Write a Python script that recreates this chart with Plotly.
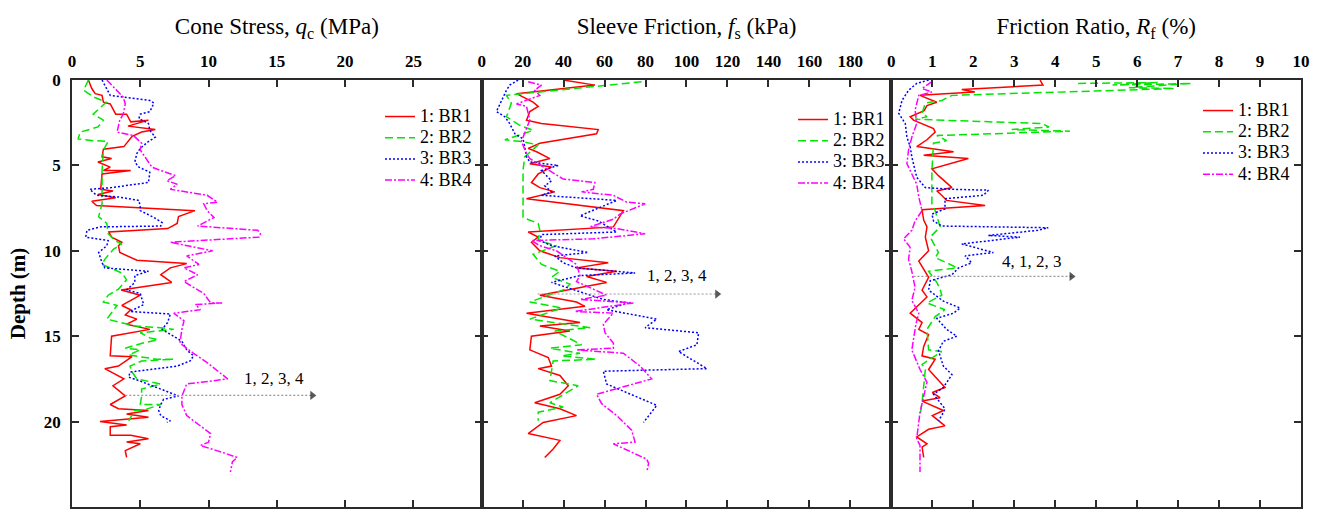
import plotly.graph_objects as go
from plotly.subplots import make_subplots

# ---------------- Cone stress q_c (MPa) ----------------
depth_qc_br1 = [0, 0.5, 0.8, 0.9, 1.3, 1.4, 2.0, 2.0, 2.45, 2.35, 2.7, 2.9, 3.05, 3.3, 3.9, 4.05, 4.5, 4.6, 4.8,
                5.1, 5.3, 5.3, 5.5, 6.4, 6.5, 6.7, 6.9, 7.1, 7.35, 7.65, 8.0, 8.4, 8.7, 8.9, 9.2, 9.5, 9.7, 10.1,
                10.55, 10.75, 11.0, 11.4, 11.85, 12.3, 12.6, 13.2, 13.45, 13.75, 14.0, 14.3, 14.6, 15.0, 16.15,
                16.2, 16.75, 16.9, 17.5, 17.9, 18.5, 19.0, 19.25, 19.35, 19.55, 19.75, 20.0, 20.2, 20.3, 20.8,
                20.8, 21.0, 21.2, 21.3, 21.7, 22.1]
qc_br1 = [1.2, 1.45, 1.7, 2.2, 2.3, 2.8, 3.2, 4.0, 4.3, 5.6, 4.1, 6.1, 5.1, 4.4, 3.8, 2.3, 2.2, 2.9, 1.9,
          2.8, 2.3, 4.3, 2.2, 2.1, 3.0, 1.9, 3.2, 1.45, 1.8, 9.0, 7.8, 7.7, 7.0, 2.7, 2.9, 3.65, 3.4, 3.5,
          4.75, 8.4, 7.2, 6.5, 7.3, 3.6, 5.0, 3.65, 4.3, 3.9, 4.75, 4.0, 5.7, 2.9, 2.8,
          4.4, 3.4, 2.4, 3.8, 3.0, 3.9, 2.8, 3.4, 5.6, 4.0, 5.6, 2.05, 4.0, 2.8, 2.8,
          4.3, 5.6, 4.0, 5.0, 3.9, 4.0]

depth_qc_br2 = [0, 0.6, 1.0, 1.3, 2.0, 2.35, 2.75, 3.05, 3.45, 3.55, 3.6, 4.1, 5.3, 7.25, 8.0, 8.4, 9.0, 9.4,
                9.6, 9.9, 10.5, 10.8, 11.3, 11.7, 12.25, 12.6, 13.0, 13.2, 14.0, 14.4, 14.5, 14.6, 14.8, 15.1,
                15.2, 15.4, 15.7, 15.8, 16.1, 16.35, 16.35, 16.45, 16.75, 17.1, 17.5, 17.8, 18.1, 18.5, 19.0,
                19.0, 19.3, 19.35, 19.95]
qc_br2 = [1.2, 0.85, 1.6, 2.5, 1.55, 2.3, 1.9, 0.6, 0.45, 1.55, 2.65, 2.3, 2.2, 2.2, 1.95, 2.55, 2.65, 3.15,
          3.65, 3.05, 2.4, 2.2, 3.65, 4.0, 3.4, 2.65, 2.3, 3.3, 2.55, 4.6, 6.5, 7.45, 5.0, 5.7,
          6.3, 5.2, 3.9, 5.0, 4.15, 6.2, 7.45, 5.1, 4.25, 4.4, 4.75, 6.5, 5.1, 5.1, 5.0,
          6.5, 5.35, 4.6, 4.15]

depth_qc_br3 = [0, 0.5, 0.9, 1.2, 1.35, 1.85, 2.0, 2.25, 2.55, 2.95, 3.35, 3.6, 4.0, 4.3, 4.8, 5.1, 5.4, 6.0,
                6.3, 6.4, 6.75, 6.85, 7.05, 7.45, 7.65, 8.05, 8.35, 8.55, 8.6, 8.8, 9.2, 9.4, 9.7, 10.1, 10.7,
                11.0, 11.2, 11.45, 11.85, 12.3, 12.5, 13.15, 13.55, 13.7, 14.2, 14.6, 15.1, 15.3, 15.8, 16.15,
                16.45, 16.75, 17.1, 17.4, 17.6, 18.3, 18.5, 18.7, 19.0, 19.35, 19.65, 19.95, 20.05]
qc_br3 = [2.2, 2.55, 2.8, 5.7, 6.0, 5.7, 5.0, 4.9, 5.6, 5.7, 6.1, 5.6, 5.0, 4.75, 4.6, 4.9, 5.7, 5.6,
          2.9, 1.3, 1.8, 3.4, 4.9, 5.0, 5.0, 6.0, 6.6, 6.5, 2.05, 1.1, 1.0, 2.65, 2.55, 1.95, 2.2,
          2.4, 5.6, 4.6, 4.6, 4.0, 5.0, 5.25, 4.25, 7.2, 7.0, 6.6, 7.7, 8.05, 8.4, 8.9,
          8.65, 7.7, 4.25, 4.15, 4.9, 7.1, 7.8, 6.7, 6.5, 6.35, 6.5, 7.2, 6.95]

depth_qc_br4 = [0, 0.5, 0.8, 1.0, 1.4, 2.0, 2.35, 2.75, 3.05, 3.25, 3.7, 4.1, 4.6, 5.1, 5.3, 5.6, 5.9, 6.1,
                6.4, 6.75, 7.15, 7.25, 7.65, 8.05, 8.55, 8.8, 9.0, 9.2, 9.5, 10.0, 10.3, 10.8, 11.0, 11.4,
                11.8, 12.5, 13.05, 13.05, 13.15, 13.45, 13.65, 14.1, 14.6, 15.4, 16.0, 16.55, 17.5, 17.8,
                18.5, 19.0, 19.65, 20.7, 21.2, 21.4, 21.8, 22.1, 22.35, 22.95]
qc_br4 = [2.55, 3.15, 3.5, 3.75, 3.9, 3.75, 3.5, 3.4, 3.3, 4.5, 5.1, 5.0, 5.4, 5.85, 6.5, 7.6, 6.95, 7.7,
          7.2, 9.9, 10.65, 9.65, 9.9, 10.4, 9.2, 13.6, 13.8, 13.7, 7.2, 10.3, 8.4, 9.3, 8.2, 9.2,
          8.2, 9.65, 10.15, 11.0, 9.05, 9.4, 7.45, 8.2, 8.05, 7.9, 8.9, 9.9, 11.4, 8.4,
          8.05, 8.05, 8.4, 10.15, 10.0, 9.4, 11.0, 12.1, 11.75, 11.6]

# ---------------- Sleeve friction f_s (kPa) ----------------
depth_fs_br1 = [0, 0.3, 0.8, 1.1, 1.3, 1.55, 1.85, 2.35, 2.55, 2.9, 3.15, 3.7, 4.0, 4.2, 4.6, 4.9, 5.1, 5.5,
                6.0, 6.3, 6.55, 6.95, 7.65, 8.6, 8.9, 9.2, 9.5, 10.0, 10.4, 10.7, 11.0, 11.2, 11.5, 11.85,
                12.6, 13.0, 13.25, 13.65, 14.2, 14.4, 14.7, 15.0, 15.8, 16.25, 16.75, 16.9, 17.3, 17.9, 18.4,
                18.9, 19.25, 19.65, 20.05, 20.7, 21.1, 21.6, 22.1]
fs_br1 = [39.8, 55.3, 17.0, 21.9, 25.1, 27.6, 23.5, 21.9, 29.2, 56.9, 56.1, 28.4, 22.7, 26.8, 33.3, 23.5,
          34.1, 27.6, 24.3, 28.4, 35.7, 21.9, 69.2, 64.3, 22.7, 27.6, 24.3, 28.4, 38.2, 61.8, 46.3, 65.9,
          51.2, 61.0, 28.4, 46.3, 50.4, 21.9, 48.0, 28.4, 43.1, 24.3, 23.5, 32.5, 34.1, 27.6, 38.2, 42.3,
          38.2, 25.9, 38.2, 46.3, 30.0, 22.7, 38.2, 34.9, 30.8]

depth_fs_br2 = [0.1, 0.9, 1.35, 2.15, 2.65, 2.95, 3.5, 3.6, 3.8, 4.5, 5.3, 7.45, 8.05, 8.4, 8.8, 9.4, 9.7,
                10.2, 10.8, 11.2, 11.55, 11.95, 12.25, 13.0, 13.35, 14.0, 14.5, 14.7, 15.5, 15.7, 16.0, 16.15,
                16.35, 16.45, 17.6, 17.9, 18.5, 18.9, 19.15, 19.45, 19.95]
fs_br2 = [78.1, 12.1, 14.5, 12.1, 18.6, 25.1, 11.3, 19.4, 27.6, 21.0, 20.2, 20.2, 20.2, 27.6, 28.4, 27.6,
          36.5, 25.1, 29.2, 38.2, 34.1, 43.1, 40.6, 23.5, 39.0, 23.5, 52.9, 35.7, 48.8, 33.3, 48.0, 39.0,
          56.1, 34.9, 33.3, 47.1, 39.0, 33.3, 39.8, 27.6, 27.6]

depth_fs_br3 = [0, 0.3, 0.6, 1.45, 1.85, 2.15, 2.55, 3.15, 3.45, 3.9, 4.5, 4.8, 5.0, 5.3, 5.6, 5.9, 6.2, 6.55,
                6.75, 7.05, 7.95, 8.25, 8.9, 9.05, 9.4, 9.7, 10.1, 10.3, 10.7, 11.0, 11.3, 11.45, 11.85, 12.4,
                12.85, 13.05, 13.45, 14.0, 14.5, 14.8, 15.5, 15.9, 16.9, 17.05, 17.8, 19.05, 20.05]
fs_br3 = [17.8, 13.7, 12.1, 8.8, 7.2, 11.3, 13.7, 16.2, 20.2, 21.0, 21.9, 23.5, 37.4, 29.2, 31.6, 34.1,
          30.8, 34.1, 29.2, 65.9, 48.0, 56.9, 65.9, 29.2, 28.4, 34.1, 52.0, 35.7, 39.8, 46.3, 74.9, 48.0,
          34.1, 48.0, 59.4, 71.6, 61.0, 85.5, 79.8, 105.9, 105.1, 96.1, 110.0, 59.4, 61.0, 85.5, 79.0]

depth_fs_br4 = [0.1, 0.3, 0.6, 0.9, 1.4, 1.55, 2.35, 3.05, 3.6, 4.3, 4.6, 5.8, 6.0, 6.4, 6.55, 6.75, 7.15,
                7.25, 7.85, 8.15, 8.6, 8.7, 9.0, 9.3, 9.4, 9.7, 10.0, 10.4, 10.8, 11.45, 11.8, 12.6, 12.85,
                13.05, 13.55, 13.65, 14.3, 14.8, 15.4, 15.7, 15.8, 16.0, 16.75, 17.5, 18.4, 18.95, 19.65,
                20.5, 21.2, 21.3, 22.2, 22.45, 22.95]
fs_br4 = [22.7, 29.2, 25.9, 28.4, 17.0, 21.9, 23.5, 21.0, 19.4, 21.9, 23.5, 39.8, 55.3, 54.5, 48.8, 64.3,
          70.8, 79.8, 67.5, 64.3, 52.9, 65.9, 79.8, 54.5, 24.3, 28.4, 36.5, 41.4, 46.3, 48.0, 46.3, 61.0,
          48.0, 74.1, 45.5, 64.3, 59.4, 60.2, 64.3, 64.3, 46.3, 69.2, 77.3, 83.0, 56.1, 58.6, 65.9,
          73.2, 74.9, 64.3, 80.6, 81.5, 80.6]

# ---------------- Friction ratio R_f (%) ----------------
depth_rf_br1 = [0, 0.3, 0.55, 0.7, 0.8, 0.9, 1.3, 1.5, 1.8, 2.15, 2.35, 2.85, 3.05, 3.5, 3.9, 4.2, 4.4, 4.6,
                5.2, 5.6, 6.3, 6.5, 6.75, 7.05, 7.35, 7.6, 8.2, 8.6, 9.2, 10.0, 10.6, 11.2, 11.55, 12.3, 12.7,
                13.65, 14.2, 14.6, 14.9, 15.6, 16.15, 16.35, 16.95, 18.0, 18.3, 18.6, 18.8, 19.35, 19.65,
                20.25, 20.45, 20.9, 21.3, 21.5, 22.1]
rf_br1 = [3.63, 3.7, 1.72, 2.04, 1.31, 0.7, 1.11, 0.87, 0.8, 0.46, 0.54, 1.03, 1.07, 0.87, 0.62, 1.52, 0.79,
          1.88, 0.99, 1.15, 1.48, 1.11, 1.23, 1.35, 2.29, 0.75, 0.79, 0.87, 0.83, 0.91, 0.67, 0.83, 0.91,
          0.75, 0.87, 0.46, 0.75, 0.67, 0.91, 0.79, 0.75, 1.07, 0.91, 1.31, 1.0, 1.19, 0.75, 1.27, 1.0,
          1.31, 0.91, 0.62, 0.87, 0.75, 0.79]

depth_rf_br2 = [0.2, 0.15, 0.3, 0.2, 0.45, 0.5, 0.9, 1.2, 1.35, 1.95, 2.15, 2.3, 2.55, 2.75, 2.9, 3.0, 3.25,
                3.55, 3.7, 5.3, 7.25, 7.65, 8.6, 9.2, 10.1, 10.4, 10.8, 11.0, 11.2, 11.85, 12.25, 12.6, 13.05,
                13.45, 13.85, 14.6, 15.8, 15.9, 16.65, 16.95, 18.9, 19.65]
rf_br2 = [4.56, 6.5, 5.4, 7.32, 5.8, 6.91, 1.48, 1.23, 0.83, 0.75, 0.87, 0.58, 3.67, 3.85, 2.94, 4.36, 1.11,
          1.35, 1.03, 0.99, 0.99, 1.07, 1.19, 0.95, 1.15, 1.07, 1.44, 1.6, 0.91, 1.11, 1.19, 1.23, 0.87,
          1.31, 1.07, 0.87, 0.91, 1.23, 0.75, 0.83, 0.75, 0.7]

depth_rf_br3 = [0, 0.2, 0.6, 1.2, 1.95, 2.55, 3.35, 3.9, 4.5, 5.7, 6.3, 6.4, 6.45, 6.75, 6.95, 7.55, 7.85,
                8.25, 8.55, 8.65, 8.8, 9.1, 9.2, 9.6, 10.1, 10.3, 10.7, 11.0, 11.4, 11.75, 12.3, 12.95, 13.35,
                13.65, 13.95, 14.6, 15.0, 15.3, 15.85, 16.75, 17.25, 18.0, 18.4, 19.25, 19.65, 19.95]
rf_br3 = [0.91, 0.62, 0.42, 0.26, 0.18, 0.34, 0.38, 0.46, 0.5, 0.62, 0.83, 1.48, 2.37, 2.25, 1.31, 1.31,
          0.99, 1.03, 1.23, 3.83, 3.58, 2.37, 3.14, 1.72, 2.49, 1.8, 1.96, 1.64, 1.48, 0.95, 0.91, 1.27,
          1.68, 1.52, 1.11, 1.35, 1.6, 1.27, 1.15, 1.27, 1.48, 1.27, 1.03, 1.31, 1.23, 1.15]

depth_rf_br4 = [0.1, 0.5, 0.7, 0.9, 1.75, 2.55, 3.35, 4.1, 4.9, 5.5, 6.1, 6.85, 7.65, 8.25, 8.8, 9.3, 9.8,
                10.5, 11.2, 12.15, 12.9, 13.65, 14.3, 15.8, 16.95, 17.7, 19.45, 21.0, 21.4, 22.95]
rf_br4 = [0.99, 0.75, 0.99, 0.67, 0.58, 0.62, 0.5, 0.42, 0.38, 0.5, 0.62, 0.67, 0.75, 0.58, 0.5, 0.3, 0.46,
          0.42, 0.5, 0.58, 0.5, 0.67, 0.6, 0.5, 0.7, 0.87, 0.7, 0.62, 0.7, 0.7]

# ---------------- Order-of-magnitude arrows ----------------
arrow_depth = [18.47, 12.53, 11.5]
arrow_start = [3.9, 27.3, 0.54]
arrow_end = [17.6, 115.0, 4.4]
arrow_text = ["1, 2, 3, 4", "1, 2, 3, 4", "4, 1, 2, 3"]
arrow_text_x = [14.8, 95.4, 3.44]
arrow_text_depth = [17.45, 11.45, 10.6]

series_names = ["1: BR1", "2: BR2", "3: BR3", "4: BR4"]
series_colors = ["#ff0000", "#00e600", "#0000ff", "#ff00ff"]
series_dash = ["solid", "8px,4px", "2px,2px", "7px,2px,2px,2px"]

panels = [
    ([qc_br1, qc_br2, qc_br3, qc_br4], [depth_qc_br1, depth_qc_br2, depth_qc_br3, depth_qc_br4]),
    ([fs_br1, fs_br2, fs_br3, fs_br4], [depth_fs_br1, depth_fs_br2, depth_fs_br3, depth_fs_br4]),
    ([rf_br1, rf_br2, rf_br3, rf_br4], [depth_rf_br1, depth_rf_br2, depth_rf_br3, depth_rf_br4]),
]
legend_ids = ["legend", "legend2", "legend3"]

SERIF = "Liberation Serif"

fig = make_subplots(rows=1, cols=3, shared_yaxes=True, horizontal_spacing=0)

for p, (xs_list, ds_list) in enumerate(panels):
    for k in range(4):
        fig.add_trace(
            go.Scatter(
                x=xs_list[k], y=ds_list[k], mode="lines",
                name='<span style="font-size:18px">' + series_names[k] + "</span>",
                line=dict(color=series_colors[k], width=1.5, dash=series_dash[k]),
                legend=legend_ids[p], showlegend=True,
            ),
            row=1, col=p + 1,
        )
    # arrow shaft + head
    fig.add_trace(
        go.Scatter(
            x=[arrow_start[p], arrow_end[p]], y=[arrow_depth[p], arrow_depth[p]],
            mode="lines+markers",
            line=dict(color="#999999", width=1.2, dash="2px,2px"),
            marker=dict(size=[0, 8], symbol="triangle-right", color="#111111", line=dict(width=0)),
            showlegend=False, hoverinfo="skip",
        ),
        row=1, col=p + 1,
    )
    fig.add_annotation(
        x=arrow_text_x[p], y=arrow_text_depth[p], xref=f"x{p + 1}" if p else "x", yref="y",
        text=arrow_text[p], showarrow=False,
        font=dict(family=SERIF, size=17, color="black"),
    )

axis_common = dict(
    showline=True, linecolor="#2b2b2b", linewidth=1.6, mirror="ticks",
    ticks="inside", ticklen=7, tickwidth=1.5, tickcolor="#2b2b2b",
    showgrid=False, zeroline=False,
    tickfont=dict(family=SERIF, size=17, color="black", weight="bold"),
)

x_titles = [
    "Cone Stress, <i>q</i><sub>c</sub> (MPa)",
    "Sleeve Friction, <i>f</i><sub>s</sub> (kPa)",
    "Friction Ratio, <i>R</i><sub>f</sub> (%)",
]
x_ranges = [[0, 30], [0, 200], [0, 10]]
x_ticks = [list(range(0, 30, 5)), list(range(0, 200, 20)), list(range(0, 11, 1))]

for p in range(3):
    fig.update_xaxes(
        range=x_ranges[p], tickvals=x_ticks[p], side="top",
        title=dict(text=x_titles[p], font=dict(family=SERIF, size=23, color="black"), standoff=11),
        ticklabelstandoff=4,
        **axis_common, row=1, col=p + 1,
    )

fig.update_yaxes(range=[25, 0], tickvals=[0, 5, 10, 15, 20, 25], **axis_common)
fig.update_yaxes(
    title=dict(text="<b>Depth (m)</b>", font=dict(family=SERIF, size=21, color="black"), standoff=12),
    ticklabelstandoff=6, row=1, col=1,
)

legend_common = dict(
    xanchor="left", yanchor="top", bgcolor="rgba(0,0,0,0)", borderwidth=0,
    font=dict(family=SERIF, size=14, color="black"), tracegroupgap=0,
)

fig.update_layout(
    width=1322, height=514,
    margin=dict(l=72, r=21, t=80, b=5),
    paper_bgcolor="white", plot_bgcolor="white",
    legend=dict(x=0.2506, y=0.951, **legend_common),
    legend2=dict(x=0.5867, y=0.944, **legend_common),
    legend3=dict(x=0.9162, y=0.965, **legend_common),
)

fig.write_html("out.html")
